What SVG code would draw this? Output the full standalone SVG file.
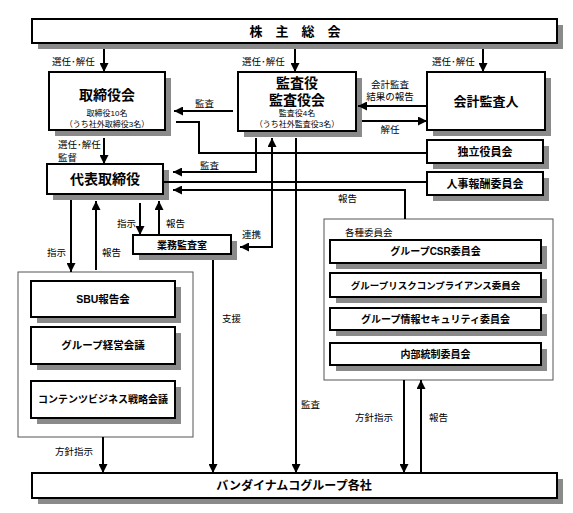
<svg xmlns="http://www.w3.org/2000/svg" width="573" height="513" viewBox="0 0 573 513">
<defs>
<style>
.bx{fill:#fff;stroke:#000;stroke-width:2}
.sh{fill:#8a8a8a}
.ct{fill:#fff;stroke:#555;stroke-width:1}
.t{font-family:"Liberation Sans","Noto Sans CJK JP",sans-serif;fill:#000;text-anchor:middle;font-weight:bold}
.s{font-family:"Liberation Sans","Noto Sans CJK JP",sans-serif;fill:#000;font-size:8px;text-anchor:middle}
.l{font-family:"Liberation Sans","Noto Sans CJK JP",sans-serif;fill:#000;font-size:9.5px}
.c{fill:none;stroke:#000;stroke-width:2}
</style>
<marker id="ah" viewBox="0 0 10 10" refX="10" refY="5" markerWidth="9" markerHeight="9" markerUnits="userSpaceOnUse" orient="auto-start-reverse">
<path d="M0,0 L10,5 L0,10 z" fill="#000"/>
</marker>
</defs>
<rect width="573" height="513" fill="#fff"/>

<g id="containers">
<rect class="ct" x="18" y="272" width="175" height="165"/>
<rect class="ct" x="324" y="219" width="229" height="161"/>
</g>

<g id="shareholders">
<rect class="sh" x="38" y="25" width="525" height="24"/>
<rect class="bx" x="32" y="19" width="525" height="24"/>
<text class="t" x="295" y="36" font-size="13">株　主　総　会</text>
</g>

<g id="board">
<rect class="sh" x="55" y="78" width="116" height="58"/>
<rect class="bx" x="49" y="72" width="116" height="58"/>
<text class="t" x="107" y="100" font-size="14">取締役会</text>
<text class="s" x="107" y="116">取締役10名</text>
<text class="s" x="107" y="127">（うち社外取締役3名）</text>
</g>

<g id="auditors">
<rect class="sh" x="244" y="78" width="118" height="59"/>
<rect class="bx" x="238" y="72" width="118" height="59"/>
<text class="t" x="297" y="88" font-size="14">監査役</text>
<text class="t" x="297" y="105" font-size="14">監査役会</text>
<text class="s" x="297" y="116">監査役4名</text>
<text class="s" x="297" y="127">（うち社外監査役3名）</text>
</g>

<g id="accounting-auditor">
<rect class="sh" x="433" y="78" width="118" height="58"/>
<rect class="bx" x="427" y="72" width="118" height="58"/>
<text class="t" x="486" y="106" font-size="13">会計監査人</text>
</g>

<g id="independent">
<rect class="sh" x="433" y="146" width="116" height="23"/>
<rect class="bx" x="427" y="140" width="116" height="23"/>
<text class="t" x="485" y="156" font-size="11">独立役員会</text>
</g>

<g id="compensation">
<rect class="sh" x="433" y="178" width="116" height="23"/>
<rect class="bx" x="427" y="172" width="116" height="23"/>
<text class="t" x="485" y="188" font-size="11">人事報酬委員会</text>
</g>

<g id="representative">
<rect class="sh" x="53" y="170" width="116" height="30"/>
<rect class="bx" x="47" y="164" width="116" height="30"/>
<text class="t" x="105" y="184" font-size="14">代表取締役</text>
</g>

<g id="internal-audit">
<rect class="sh" x="139" y="241" width="98" height="19"/>
<rect class="bx" x="133" y="235" width="98" height="19"/>
<text class="t" x="182" y="249" font-size="10">業務監査室</text>
</g>

<g id="sbu">
<rect class="sh" x="37" y="287" width="144" height="36"/>
<rect class="bx" x="31" y="281" width="144" height="36"/>
<text class="t" x="103" y="303" font-size="10.5">SBU報告会</text>
</g>

<g id="group-management">
<rect class="sh" x="37" y="333" width="144" height="37"/>
<rect class="bx" x="31" y="327" width="144" height="37"/>
<text class="t" x="103" y="349" font-size="10.5">グループ経営会議</text>
</g>

<g id="content-strategy">
<rect class="sh" x="37" y="387" width="144" height="37"/>
<rect class="bx" x="31" y="381" width="144" height="37"/>
<text class="t" x="103" y="403" font-size="10">コンテンツビジネス戦略会議</text>
</g>

<g id="committees">
<text class="l" x="345" y="236">各種委員会</text>
</g>

<g id="csr">
<rect class="sh" x="336" y="246" width="211" height="23"/>
<rect class="bx" x="330" y="240" width="211" height="23"/>
<text class="t" x="435.5" y="255" font-size="10">グループCSR委員会</text>
</g>

<g id="risk">
<rect class="sh" x="336" y="279" width="211" height="24"/>
<rect class="bx" x="330" y="273" width="211" height="24"/>
<text class="t" x="435.5" y="289" font-size="9.5">グループリスクコンプライアンス委員会</text>
</g>

<g id="security">
<rect class="sh" x="336" y="314" width="211" height="22"/>
<rect class="bx" x="330" y="308" width="211" height="22"/>
<text class="t" x="435.5" y="323" font-size="10">グループ情報セキュリティ委員会</text>
</g>

<g id="internal-control">
<rect class="sh" x="336" y="349" width="211" height="22"/>
<rect class="bx" x="330" y="343" width="211" height="22"/>
<text class="t" x="435.5" y="358" font-size="10">内部統制委員会</text>
</g>

<g id="group-companies">
<rect class="sh" x="38" y="479" width="525" height="25"/>
<rect class="bx" x="32" y="473" width="525" height="25"/>
<text class="t" x="294" y="490" font-size="12">バンダイナムコグループ各社</text>
</g>

<g id="connectors">
<path class="c" d="M104,49 V72" marker-end="url(#ah)"/>
<path class="c" d="M295,49 V72" marker-end="url(#ah)"/>
<path class="c" d="M483,49 V72" marker-end="url(#ah)"/>
<path class="c" d="M427,106 H358" marker-end="url(#ah)"/>
<path class="c" d="M362,121 H427" marker-end="url(#ah)"/>
<path class="c" d="M233,111 H174" marker-end="url(#ah)"/>
<path class="c" d="M176,122 H199 V153 H427"/>
<path class="c" d="M104,138 V164" marker-end="url(#ah)"/>
<path class="c" d="M256,138 V172 H173" marker-end="url(#ah)"/>
<path class="c" d="M163,182 H427"/>
<path class="c" d="M405,219 V190 H173" marker-end="url(#ah)"/>
<path class="c" d="M272,138 V247 H240" marker-start="url(#ah)" marker-end="url(#ah)"/>
<path class="c" d="M296,138 V473" marker-end="url(#ah)"/>
<path class="c" d="M140,203 V235" marker-end="url(#ah)"/>
<path class="c" d="M159,235 V201" marker-end="url(#ah)"/>
<path class="c" d="M213,260 V473" marker-end="url(#ah)"/>
<path class="c" d="M71,200 V272" marker-end="url(#ah)"/>
<path class="c" d="M96,270 V201" marker-end="url(#ah)"/>
<path class="c" d="M103,437 V473" marker-end="url(#ah)"/>
<path class="c" d="M404,380 V473" marker-end="url(#ah)"/>
<path class="c" d="M421,473 V380" marker-end="url(#ah)"/>
</g>

<g id="labels">
<text class="l" x="52" y="65">選任･解任</text>
<text class="l" x="242" y="65">選任･解任</text>
<text class="l" x="432" y="65">選任･解任</text>
<text class="l" x="195" y="107">監査</text>
<text class="l" x="390" y="88" text-anchor="middle">会計監査</text>
<text class="l" x="390" y="100" text-anchor="middle">結果の報告</text>
<text class="l" x="390" y="133" text-anchor="middle">解任</text>
<text class="l" x="58" y="148">選任･解任</text>
<text class="l" x="58" y="161">監督</text>
<text class="l" x="200" y="169">監査</text>
<text class="l" x="338" y="202">報告</text>
<text class="l" x="117" y="227">指示</text>
<text class="l" x="166" y="227">報告</text>
<text class="l" x="242" y="238">連携</text>
<text class="l" x="47" y="256">指示</text>
<text class="l" x="102" y="256">報告</text>
<text class="l" x="222" y="322">支援</text>
<text class="l" x="301" y="408">監査</text>
<text class="l" x="55" y="455">方針指示</text>
<text class="l" x="355" y="421">方針指示</text>
<text class="l" x="429" y="421">報告</text>
</g>
</svg>
